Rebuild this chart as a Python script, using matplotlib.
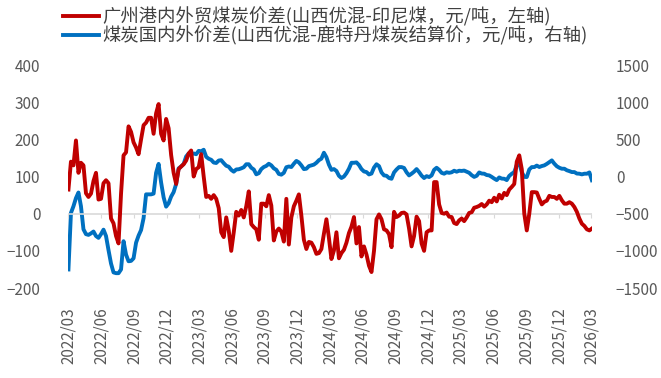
import numpy as np
import pandas as pd
import matplotlib
matplotlib.use('Agg')
import matplotlib.pyplot as plt
import matplotlib.dates as mdates

plt.rcParams['font.family'] = ['Noto Sans CJK SC', 'DejaVu Sans']

# weekly observations, first week of 2022/03 onwards
dates = pd.date_range('2022-03-01', periods=210, freq='7D')

# 广州港内外贸煤炭价差 (元/吨, left axis)
gz_spread = [
    65, 140, 130, 197, 110, 137, 130, 55, 45, 54,
    88, 110, 38, 40, 82, 90, 82, -13, -26, -60,
    -80, 54, 157, 165, 235, 220, 192, 178, 160, 200,
    238, 245, 258, 258, 215, 270, 295, 215, 197, 255,
    230, 158, 110, 80, 120, 127, 133, 143, 162, 170,
    100, 120, 125, 160, 100, 45, 48, 40, 50, 40,
    15, -50, -63, -10, -45, -100, -50, 5, -5, 10,
    -10, 20, 60, -28, -36, -42, -70, 27, 27, 20,
    50, 22, -72, -48, -40, -48, -75, 40, -83, -10,
    20, 35, 52, -5, -70, -95, -76, -78, -90, -108,
    -106, -95, -54, -15, -65, -122, -99, -50, -120, -106,
    -97, -78, -52, -35, -9, -80, -36, -115, -88, -110,
    -140, -157, -100, -15, -2, -15, -42, -45, -55, -90,
    5, -9, -5, 2, 3, -2, -40, -88, -60, -8,
    -20, -80, -100, -50, -45, -45, 85, 85, 25, 2,
    0, 3, -8, -9, -25, -28, -18, -13, -20, -10,
    2, 4, 16, 18, 21, 26, 19, 25, 35, 31,
    43, 33, 51, 41, 56, 50, 65, 72, 80, 140,
    157, 120, 0, -45, 0, 58, 58, 57, 40, 25,
    32, 35, 48, 45, 45, 40, 48, 36, 27, 27,
    31, 27, 18, 5, -13, -27, -33, -42, -45, -40,
]

# 煤炭国内外价差 山西优混-鹿特丹 (元/吨, right axis)
intl_spread = [
    -1250, -490, -400, -290, -215, -400, -710, -775, -785, -765,
    -740, -800, -825, -775, -715, -800, -990, -1170, -1290, -1300,
    -1300, -1250, -870, -1050, -1140, -1135, -1100, -890, -795, -720,
    -560, -240, -240, -240, -230, 50, 170, -80, -280, -405,
    -360, -270, -210, -100, 110, 135, 170, 270, 310, 300,
    310, 300, 345, 340, 360, 265, 239, 225, 188, 182,
    215, 220, 180, 145, 132, 90, 65, 95, 98, 110,
    125, 165, 165, 118, 95, 30, 45, 100, 128, 143,
    172, 150, 110, 90, 35, 25, 50, 125, 135, 128,
    172, 210, 190, 150, 100, 105, 140, 150, 160, 185,
    220, 240, 320, 260, 160, 90, 100, 75, 10, -20,
    0, 45, 105, 185, 185, 190, 155, 100, 68, 60,
    28, 40, 120, 165, 140, 55, 15, 10, -20, -30,
    55, 95, 127, 127, 115, 57, 15, 38, 65, 100,
    60, 12, -20, 5, -7, 15, 90, 118, 90, 50,
    38, 57, 50, 57, 78, 65, 78, 75, 80, 65,
    50, 18, -5, 10, 55, 40, 38, 20, 15, -5,
    -28, -48, -12, -28, -30, -48, 8, 37, 60, 155,
    180, 60, -5, -7, 95, 127, 127, 147, 128, 141,
    150, 170, 193, 217, 173, 138, 118, 105, 105, 84,
    73, 60, 60, 40, 38, 29, 38, 38, 55, -50,
]

tick_dates = pd.date_range('2022-03-01', '2026-03-01', freq='3MS')

red = '#C00000'
blue = '#0070C0'
txt = '#595959'

fig = plt.figure(figsize=(6.61, 3.78), dpi=100)
ax = fig.add_axes([0.103, 0.238, 0.793, 0.590])
ax2 = ax.twinx()

ax.axhline(0, color='#D9D9D9', lw=1.2, zorder=1)
l1, = ax.plot(dates, gz_spread, color=red, lw=2.8, zorder=3,
              label='广州港内外贸煤炭价差(山西优混-印尼煤，元/吨，左轴)')
l2, = ax2.plot(dates, intl_spread, color=blue, lw=2.8, zorder=3,
               label='煤炭国内外价差(山西优混-鹿特丹煤炭结算价，元/吨，右轴)')
ax.set_zorder(ax2.get_zorder() + 1)
ax.patch.set_visible(False)

ax.set_ylim(-200, 400)
ax.set_yticks(np.arange(-200, 401, 100))
ax2.set_ylim(-1500, 1500)
ax2.set_yticks(np.arange(-1500, 1501, 500))
ax.set_xlim(dates[0] - pd.Timedelta(days=1), dates[-1] + pd.Timedelta(days=1))

for a in (ax, ax2):
    for s in a.spines.values():
        s.set_visible(False)

ax.tick_params(axis='y', length=0, pad=20, labelsize=11, labelcolor=txt)
ax2.tick_params(axis='y', length=0, pad=17, labelsize=11, labelcolor=txt)

ax.set_xticks(tick_dates)
ax.xaxis.set_major_formatter(mdates.DateFormatter('%Y/%m'))
ax.tick_params(axis='x', length=0, pad=14, labelsize=11, labelcolor=txt,
               labelrotation=90)

# small tick marks hanging from the zero line
sec = ax.secondary_xaxis(1 / 3)
sec.set_xticks(tick_dates)
sec.tick_params(axis='x', length=3, color='#D9D9D9', labelbottom=False)
sec.spines['bottom'].set_visible(False)

fig.legend(handles=[l1, l2], loc='upper left', bbox_to_anchor=(0.078, 1.01),
           frameon=False, fontsize=13.2, handlelength=2.0, handletextpad=0.15,
           labelspacing=-0.05, labelcolor='#404040', borderaxespad=0.2)

plt.savefig('out.png', dpi=100)
plt.close()
